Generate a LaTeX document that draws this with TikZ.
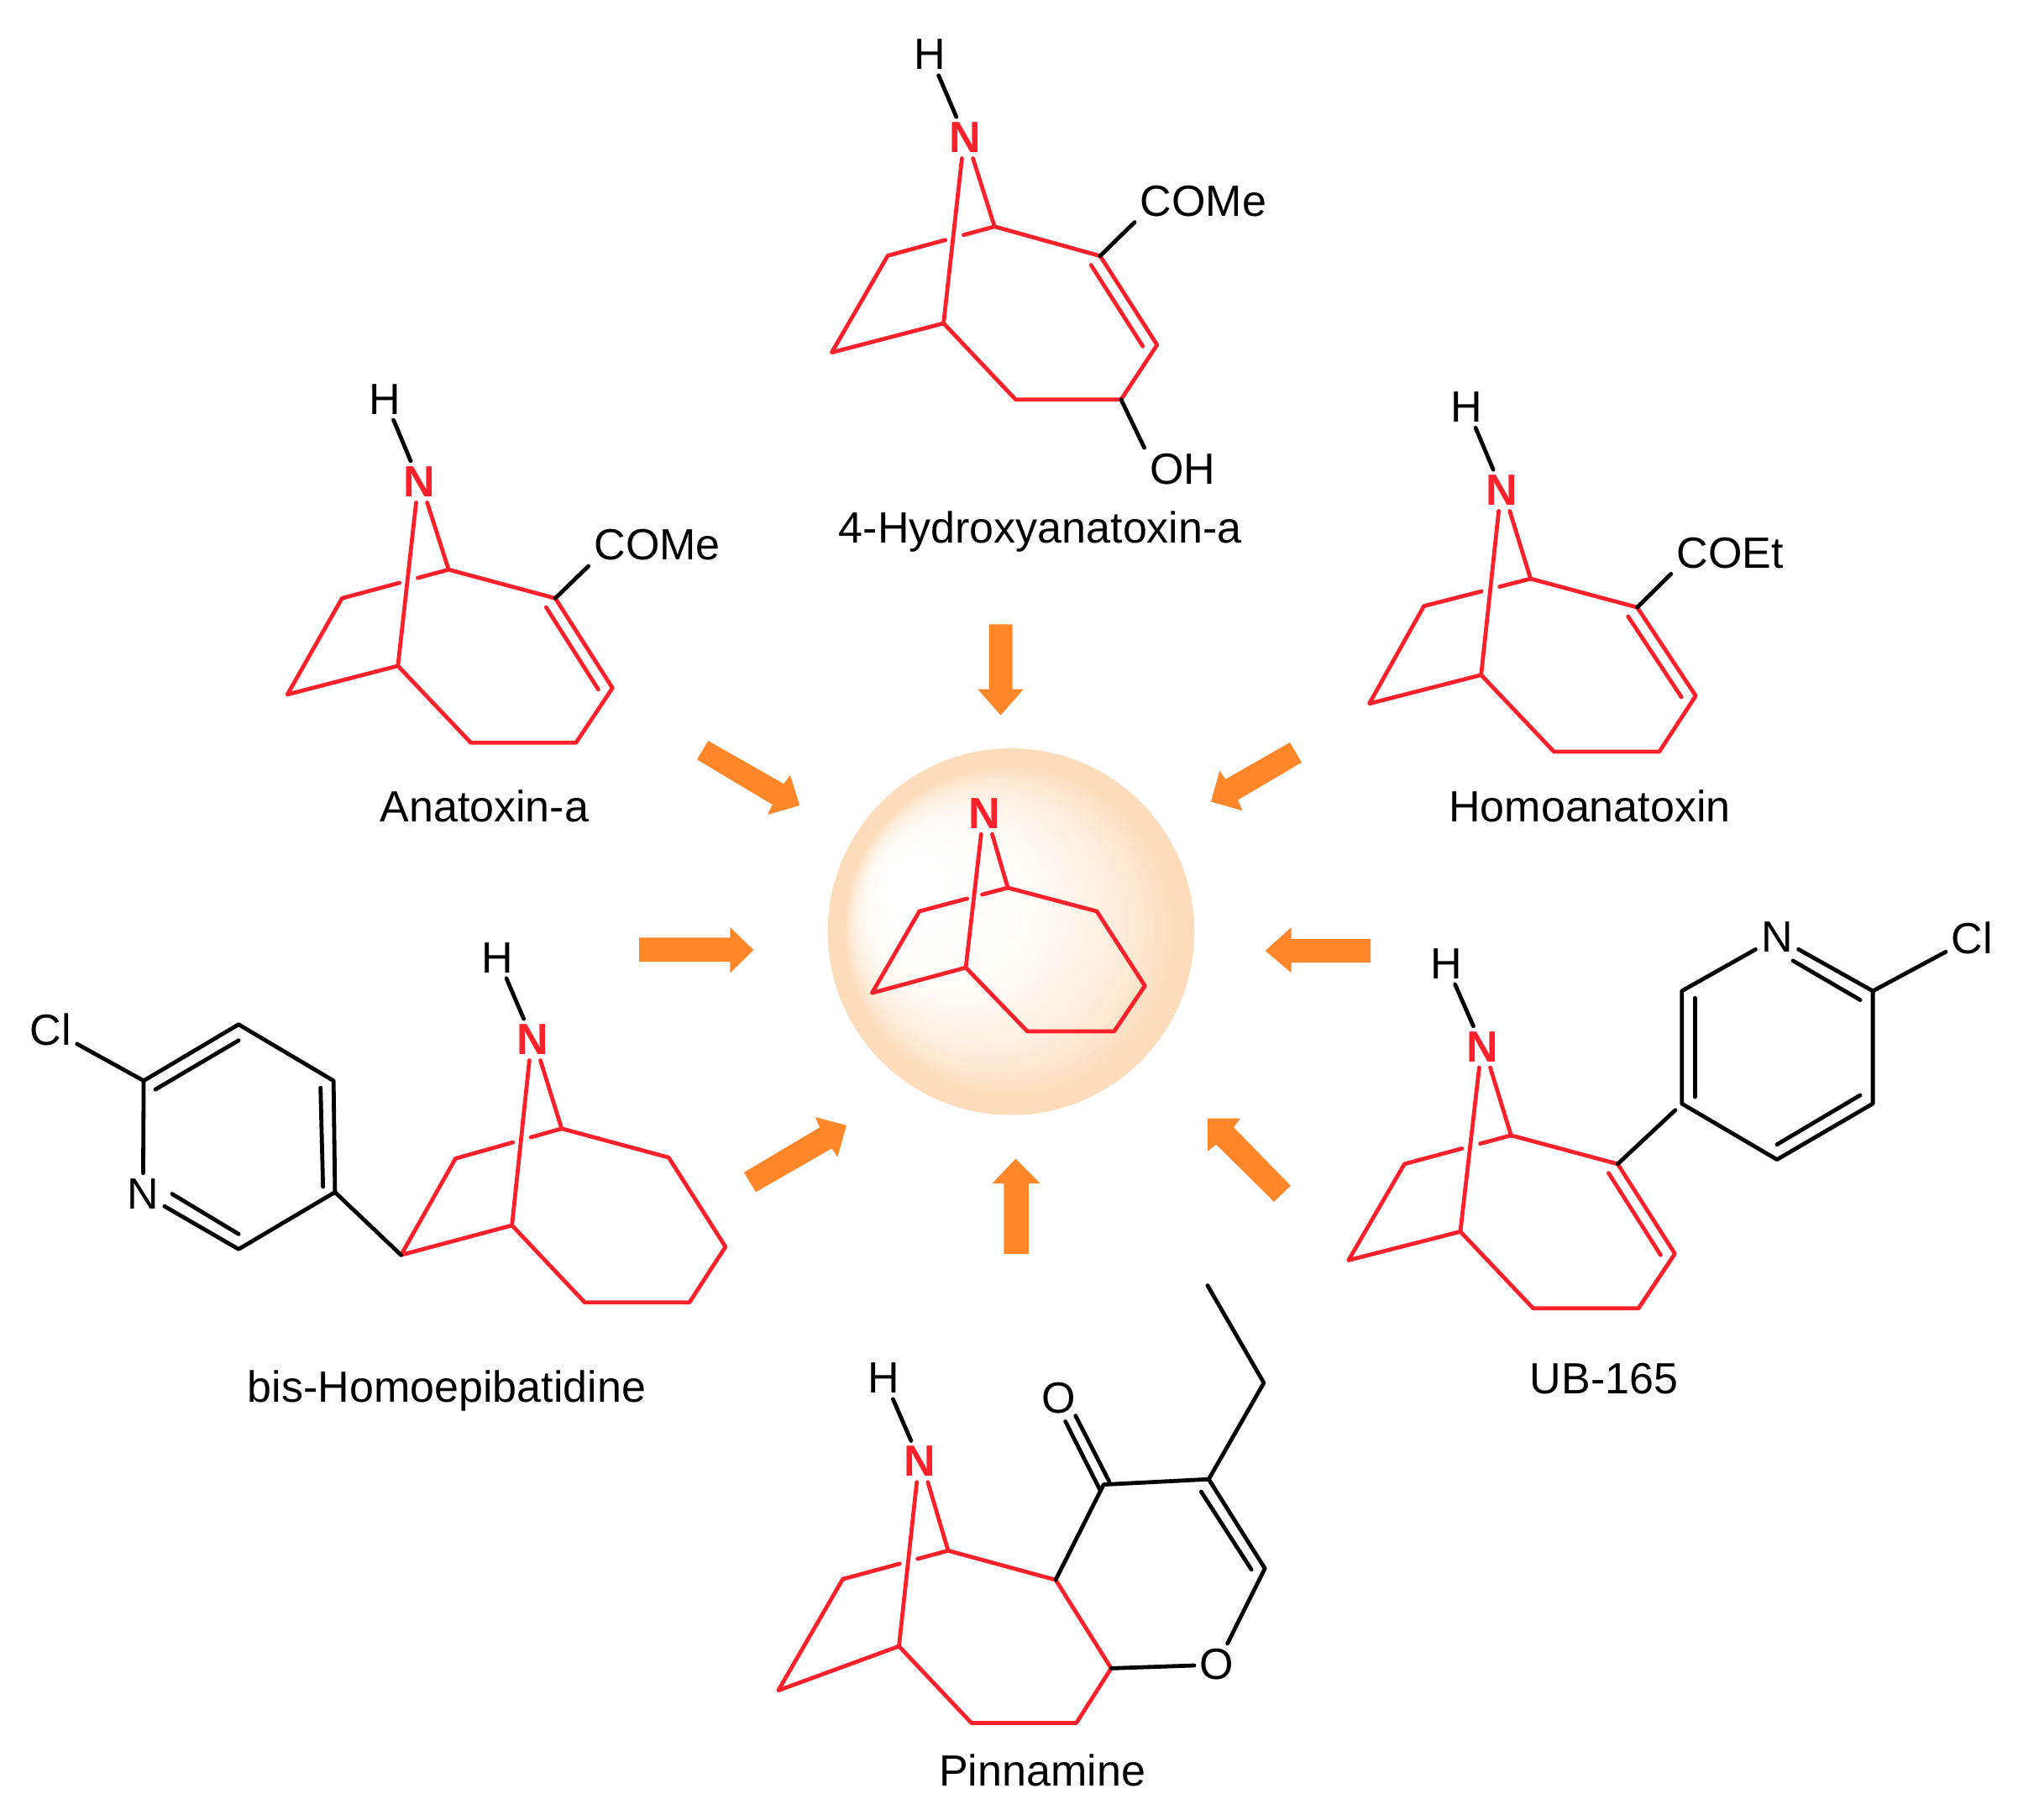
\documentclass[tikz,border=0pt]{standalone}
\usepackage{fontspec}
\setmainfont{Liberation Sans}
\usetikzlibrary{calc}
\definecolor{bondred}{RGB}{252,33,42}
\definecolor{arroworange}{RGB}{255,135,41}
\definecolor{halo}{RGB}{252,220,186}
\tikzstyle{redbond} = [draw=bondred, line width=1.55pt, line join=round, line cap=round]
\tikzstyle{blackbond} = [draw=black, line width=1.55pt, line join=round, line cap=round]
\tikzstyle{atom} = [inner sep=2pt, font=\fontsize{16.8}{18}\selectfont]
\tikzstyle{nitrogen} = [atom, text=bondred, font=\fontsize{16.8}{18}\selectfont\bfseries]
\tikzstyle{compound} = [inner sep=0pt, anchor=base, font=\fontsize{16.8}{18}\selectfont]
\tikzstyle{blockarrow} = [fill=arroworange]
% bicyclic core: prefix, then the eight ring atoms
\newcommand{\tropane}[9]{
    \coordinate (#1a) at (#2);
    \coordinate (#1b) at (#3);
    \coordinate (#1c) at (#4);
    \coordinate (#1d) at (#5);
    \coordinate (#1e) at (#6);
    \coordinate (#1f) at (#7);
    \coordinate (#1g) at (#8);
    \coordinate (#1h) at (#9);
    \draw [redbond] (#1b) -- ($(#1n.south)+(-2.5,0)$);
    \draw [redbond] ($(#1n.south)+(6,0)$) -- (#1a) -- ($(#1c)!.71!(#1a)$);
    \draw [redbond] ($(#1c)!.54!(#1a)$) -- (#1c) -- (#1d) -- (#1b) -- (#1h) -- (#1g) -- (#1f) -- (#1e) -- (#1a);
}
\begin{document}
\begin{tikzpicture}[x=0.5pt, y=-0.5pt]
\useasboundingbox (0,0) rectangle (1568,1399);

% centre
\coordinate (centre) at (777.5,716.4);
\coordinate (glow) at (684.5,676);
\fill [halo] (centre) circle (141);
\foreach \i in {0,...,59} {
    \pgfmathsetmacro{\f}{\i/60}
    \pgfmathsetmacro{\m}{100*(1-\f)^3}
    \fill [halo!\m!white] ($(centre)!\f!(glow)$) circle ({129*(1-\f)});
}
\node [nitrogen] (cn) at (757,625.5) {N};
\tropane{c}{775,682.6}{742.7,744}{707,700.7}{670.6,763.5}{843.4,700.7}{880.4,758}{856.8,793}{790,793}

% arrows
\fill [blockarrow] (760.5,480) -- (778.5,480) -- (778.5,530) -- (787,530) -- (769.5,550) -- (752,530) -- (760.5,530) -- cycle;
\fill [blockarrow] (491.5,721) -- (561.5,721) -- (561.5,713) -- (579.5,730.5) -- (561.5,748) -- (561.5,739.5) -- (491.5,739.5) -- cycle;
\fill [blockarrow] (1054,722) -- (993,722) -- (993,713) -- (973,731) -- (993,748) -- (993,740) -- (1054,740) -- cycle;
\fill [blockarrow] (772,964) -- (772,910) -- (763,910) -- (781,891) -- (800,910) -- (791,910) -- (791,964) -- cycle;
\fill [blockarrow] (544.6,569.6) -- (602.7,602.7) -- (607.7,596) -- (614.9,619.3) -- (590.3,626.4) -- (594,618.7) -- (536,584) -- cycle;
\fill [blockarrow] (991.9,570.9) -- (1001,586.2) -- (951.9,615.1) -- (955.3,623.3) -- (931.2,616.4) -- (937.9,592.7) -- (942.4,599.2) -- cycle;
\fill [blockarrow] (572.1,901.5) -- (581.2,916.6) -- (639.7,883) -- (644,889.7) -- (650.9,865.4) -- (627,858.9) -- (630.3,866.9) -- cycle;
\fill [blockarrow] (992.5,911.7) -- (979.7,924) -- (935.2,880) -- (928.7,885.3) -- (928.7,860) -- (953.8,860) -- (948.7,866.8) -- cycle;

% 4-Hydroxyanatoxin-a
\node [nitrogen] (tn) at (742.2,105.8) {N};
\node [atom] (thyd) at (715,42) {H};
\tropane{t}{764.8,174.2}{725.6,248.6}{682.7,196.6}{639.6,271}{846,196.8}{889.8,265.2}{862.1,307.2}{781,307.2}
\node [atom, anchor=west] (tcome) at (872.5,154.6) {COMe};
\node [atom, anchor=west] (toh) at (880,360.6) {OH};
\draw [blackbond] (thyd) -- (tn);
\draw [blackbond] (te) -- (tcome.south west);
\draw [blackbond] (tg) -- (toh.north west);
\draw [redbond] ($(te)+(-7,7)$) -- ($(tf)+(-11,1)$);
\node [compound] (tname) at (800,417.5) {4-Hydroxyanatoxin-a};

% Anatoxin-a
\node [nitrogen] (an) at (322.5,370.5) {N};
\node [atom] (ahyd) at (296,307) {H};
\tropane{a}{345,438}{306,512}{263,460}{221,534}{427,460}{471,529}{443,571}{362,571}
\node [atom, anchor=west] (acome) at (452.5,419) {COMe};
\draw [blackbond] (ahyd) -- (an);
\draw [blackbond] (ae) -- (acome.south west);
\draw [redbond] ($(ae)+(-7,7)$) -- ($(af)+(-11,1)$);
\node [compound] (aname) at (372.5,632) {Anatoxin-a};

% Homoanatoxin
\node [nitrogen] (hn) at (1155,377) {N};
\node [atom] (hhyd) at (1128,313) {H};
\tropane{h}{1177,445}{1139,519}{1095,466}{1053,541}{1259,467}{1304,535}{1276,578}{1195,578}
\node [atom, anchor=west] (hcoet) at (1285,425) {COEt};
\draw [blackbond] (hhyd) -- (hn);
\draw [blackbond] (he) -- (hcoet.south west);
\draw [redbond] ($(he)+(-7,7)$) -- ($(hf)+(-11,1)$);
\node [compound] (hname) at (1222.5,632) {Homoanatoxin};

% UB-165
\node [nitrogen] (un) at (1140,805) {N};
\node [atom] (uhyd) at (1112,741) {H};
\tropane{u}{1162,873}{1123,947}{1080,895}{1037,969}{1244,895}{1288,964}{1260,1006}{1179,1006}
\draw [blackbond] (uhyd) -- (un);
\draw [redbond] ($(ue)+(-7,7)$) -- ($(uf)+(-11,1)$);
\node [atom] (upn) at (1366.5,720.7) {N};
\node [atom] (ucl) at (1516.6,721) {Cl};
\coordinate (up1) at (1293.3,848.6);
\coordinate (up2) at (1293.3,762);
\coordinate (up3) at (1440.2,762);
\coordinate (up4) at (1440.2,848.6);
\coordinate (up5) at (1366.5,891.6);
\draw [blackbond] (upn) -- (up2) -- (up1) -- (up5) -- (up4) -- (up3) -- (upn);
\draw [blackbond] (up3) -- (ucl);
\draw [blackbond] (ue) -- ($(up1)+(-5,5)$);
\draw [blackbond] ($(up2)+(10,5.4)$) -- ($(up1)+(10,-5.2)$);
\draw [blackbond] ($(up3)+(-9.7,6.9)$) -- ($(upn)+(12.3,18)$);
\draw [blackbond] ($(up4)+(-9.7,-6.5)$) -- ($(up5)+(0,-11.6)$);
\node [compound] (uname) at (1233.5,1072) {UB-165};

% bis-Homoepibatidine
\node [nitrogen] (bn) at (409.6,799.4) {N};
\node [atom] (bhyd) at (382.6,736.3) {H};
\tropane{b}{431.9,867.8}{393.7,942.2}{350.3,890.8}{308.4,965}{514.2,890}{557.9,958.7}{530.1,1001.5}{449.7,1001.5}
\draw [blackbond] (bhyd) -- (bn);
\node [atom] (bpn) at (110,918) {N};
\node [atom] (bcl) at (39,791.5) {Cl};
\coordinate (bp1) at (110.5,831);
\coordinate (bp2) at (183.5,787.7);
\coordinate (bp3) at (256.5,831);
\coordinate (bp4) at (257.6,916.7);
\coordinate (bp5) at (183.5,960.5);
\draw [blackbond] (bpn) -- (bp1) -- (bp2) -- (bp3) -- (bp4) -- (bp5) -- (bpn);
\draw [blackbond] (bp1) -- (bcl);
\draw [blackbond] (bp4) -- (bd);
\draw [blackbond] ($(bp1)+(9,6.7)$) -- ($(bp2)+(0,12.3)$);
\draw [blackbond] ($(bp3)+(-10,5.4)$) -- ($(bp4)+(-9.2,-4.2)$);
\draw [blackbond] ($(bpn)+(22.3,0)$) -- ($(bp5)+(0,-11.6)$);
\node [compound] (bname) at (343.5,1078) {bis-Homoepibatidine};

% Pinnamine
\node [nitrogen] (pn) at (707.5,1123.7) {N};
\node [atom] (phyd) at (679.8,1059.8) {H};
\tropane{p}{729.1,1192.3}{691.3,1265.8}{648.1,1214.2}{598.5,1299.8}{811.8,1214.8}{854.5,1282.8}{827.7,1324.8}{747,1324.8}
\draw [blackbond] (phyd) -- (pn);
\node [atom] (po) at (814.2,1074.9) {O};
\node [atom] (pr) at (935.8,1280) {O};
\coordinate (pc1) at (848.7,1141.5);
\coordinate (pc2) at (929.5,1137.4);
\coordinate (pc3) at (972.7,1206);
\coordinate (pc4) at (971.9,1063.3);
\coordinate (pc5) at (928.6,988.4);
\draw [blackbond] (pe) -- (pc1) -- (pc2) -- (pc3) -- (pr) -- (pf);
\draw [blackbond] (pc2) -- (pc4) -- (pc5);
\draw [blackbond] ($(pc2)+(-5.8,9.6)$) -- ($(pc3)+(-10.4,0.8)$);
\draw [blackbond] ($(po)+(5.1,18.1)$) -- ($(pc1)+(-2.8,4.1)$);
\draw [blackbond] ($(po)+(12.9,13.7)$) -- ($(pc1)+(4.1,-2.7)$);
\node [compound] (pname) at (801.5,1373.5) {Pinnamine};
\end{tikzpicture}
\end{document}
